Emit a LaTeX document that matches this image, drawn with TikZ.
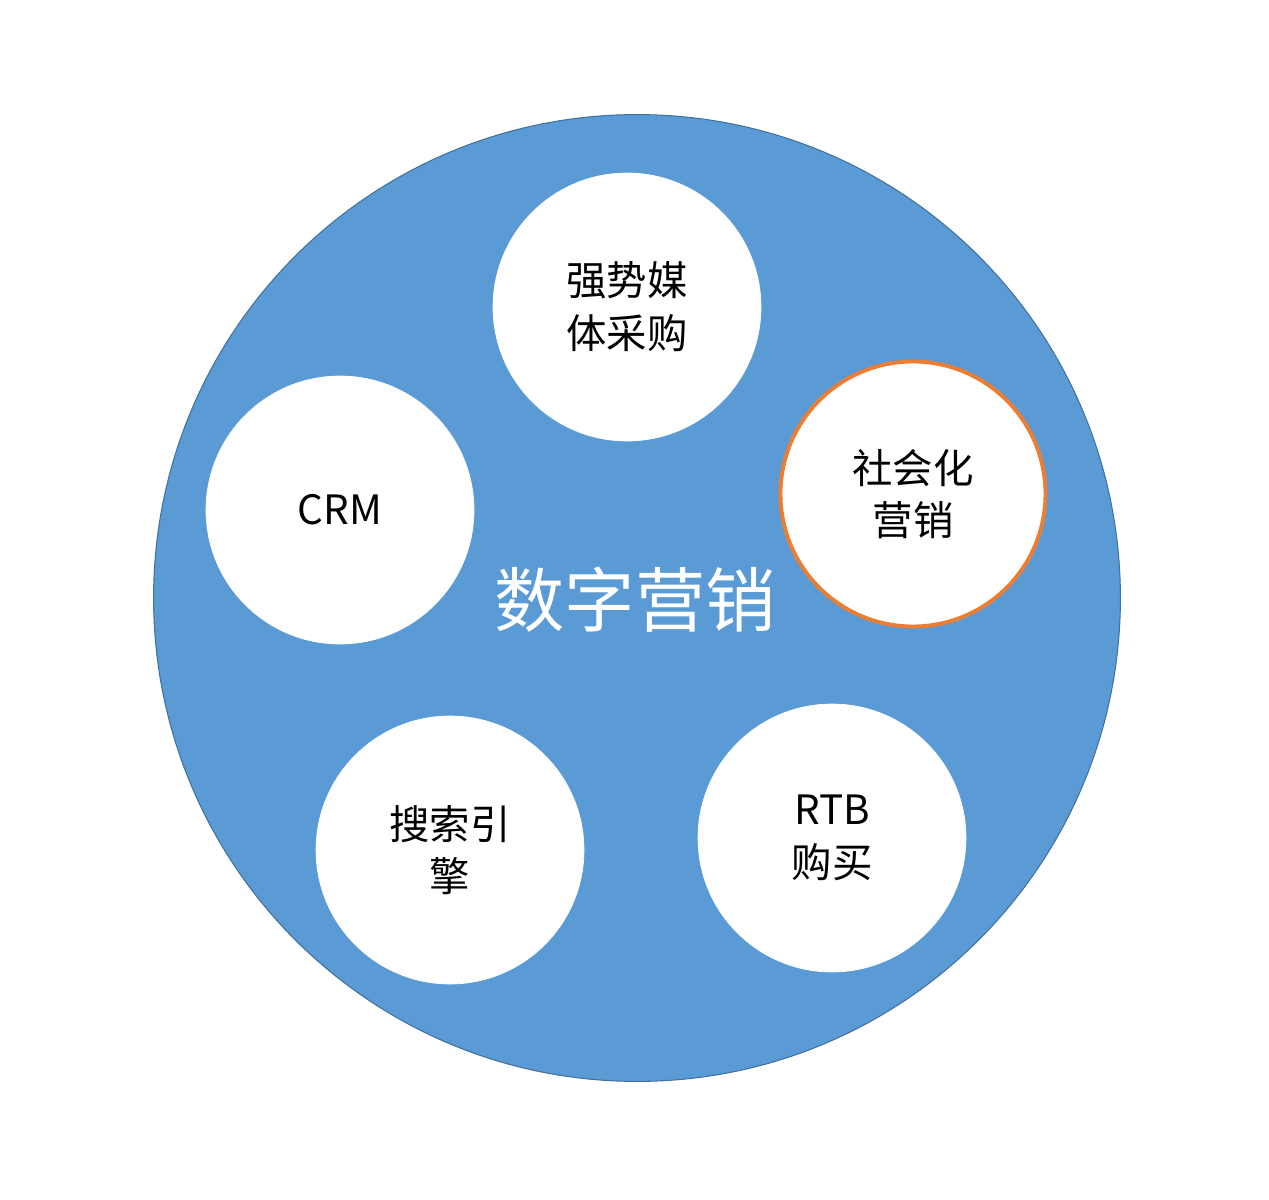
\documentclass[tikz,border=0pt]{standalone}
\usepackage{fontspec}
\setmainfont{Noto Sans CJK SC}
\definecolor{bigblue}{HTML}{5B9BD5}
\definecolor{bordblue}{HTML}{41719C}
\definecolor{orng}{HTML}{ED7D31}
\begin{document}
\begin{tikzpicture}[x=0.02cm,y=-0.02cm,
  small/.style={circle,fill=white,draw=white,minimum size=5.36cm,inner sep=0pt,align=center,font=\fontsize{23}{30}\selectfont}]
\useasboundingbox (0,0) rectangle (1269,1200);
\node[circle,fill=bigblue,draw=bordblue,line width=0.6pt,minimum size=19.34cm,inner sep=0pt] (big) at (637,598) {};
\node[text=white,font=\fontsize{40}{48}\selectfont] (title) at (635,600) {数字营销};
\node[small] (media) at (627,307) {强势媒\\体采购};
\node[small] (crm) at (340,510) {CRM};
\node[small,draw=orng,line width=2.2pt,minimum size=5.3cm] (social) at (913,494) {社会化\\营销};
\node[small] (search) at (450,850) {搜索引\\擎};
\node[small] (rtb) at (832,838) {RTB\\购买};
\end{tikzpicture}
\end{document}
